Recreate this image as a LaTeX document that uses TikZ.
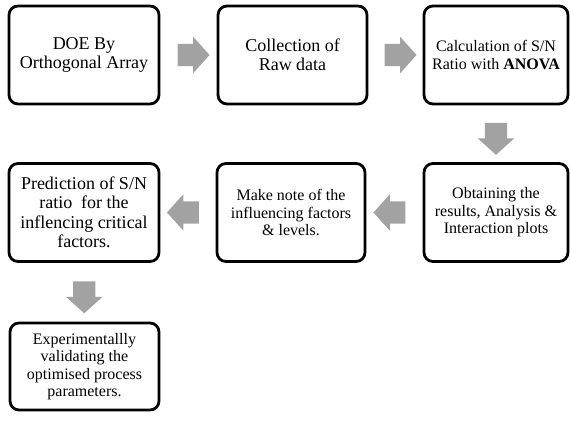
\documentclass[tikz,border=0pt]{standalone}
\usepackage{fontspec}
\setmainfont{Liberation Serif}
\newfontfamily\stepfont{Liberation Serif}
\usetikzlibrary{shapes.arrows,calc}
\definecolor{arrowgray}{RGB}{162,162,162}
\tikzset{
  stepbox/.style={draw=black, line width=2.8pt, rounded corners=9pt, fill=white,
    align=center, inner sep=2pt, minimum height=#1},
  stepbox/.default=98pt,
  blockarrow/.style={single arrow, fill=arrowgray, draw=none,
    minimum height=32pt, minimum width=36pt, inner xsep=0pt, inner ysep=11pt,
    single arrow head extend=7pt, single arrow tip angle=96},
  big/.style={font=\stepfont\fontsize{18}{19.5}\selectfont},
  small/.style={font=\stepfont\fontsize{16}{17.5}\selectfont}
}
\begin{document}
\begin{tikzpicture}[x=1pt,y=-1pt]
  \useasboundingbox (0,0) rectangle (570,422);
  % first row, left to right
  \node[stepbox, big, minimum width=150pt] (b1) at (84,55) {DOE By\\Orthogonal Array};
  \node[stepbox, big, minimum width=149pt] (b2) at (292.5,55) {Collection of\\Raw data};
  \node[stepbox, small, minimum width=144pt] (b3) at (496,55) {Calculation of S/N\\Ratio with \textbf{ANOVA}};
  % second row, right to left
  \node[stepbox, small, minimum width=144pt] (b4) at (496,212.5) {Obtaining the\\results, Analysis \&\\Interaction plots};
  \node[stepbox, small, minimum width=148pt] (b5) at (291,212.5) {Make note of the\\influencing factors\\\& levels.};
  \node[stepbox, big, minimum width=150pt] (b6) at (84,212.5) {Prediction of S/N\\ratio\ \ for the\\inflencing critical\\factors.};
  % last step
  \node[stepbox=87pt, small, minimum width=149pt] (b7) at (84.5,366.5) {Experimentallly\\validating the\\optimised process\\parameters.};
  % block arrows between the steps
  \node[blockarrow] (a12) at ($(b1.east)!0.5!(b2.west)$) {};
  \node[blockarrow] (a23) at ($(b2.east)!0.5!(b3.west)$) {};
  \node[blockarrow, rotate=-90] (a34) at ($(b3.south)!0.5!(b4.north)$) {};
  \node[blockarrow, rotate=180] (a45) at ($(b4.west)!0.5!(b5.east)$) {};
  \node[blockarrow, rotate=180] (a56) at ($(b5.west)!0.5!(b6.east)$) {};
  \node[blockarrow, rotate=-90] (a67) at ($(b6.south)!0.5!(b7.north)$) {};
\end{tikzpicture}
\end{document}
